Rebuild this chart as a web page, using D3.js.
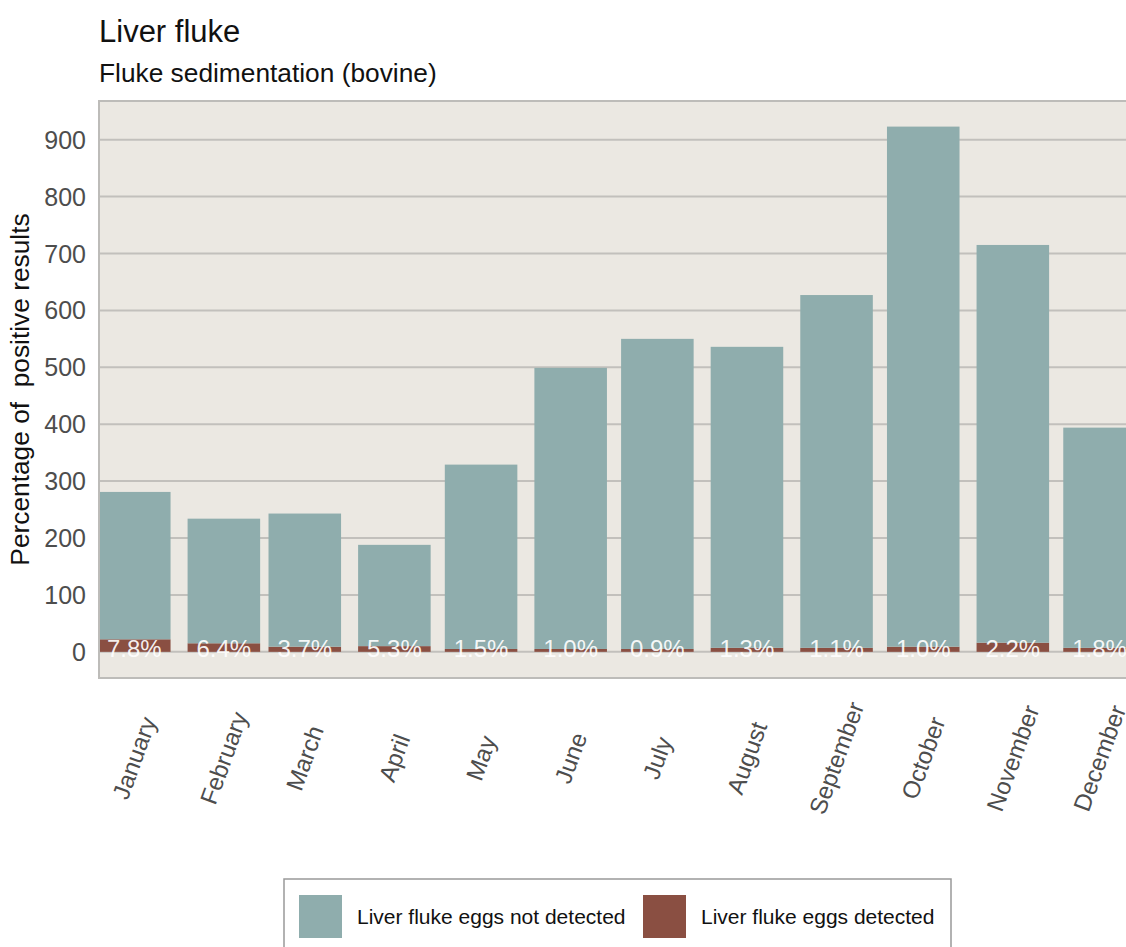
<!DOCTYPE html>
<html><head><meta charset="utf-8">
<script src="https://cdn.jsdelivr.net/npm/d3@7"></script>
<style>html,body{margin:0;padding:0;background:#fff;overflow:hidden}svg{display:block}</style>
</head><body>
<script>
const months = ["January","February","March","April","May","June","July","August","September","October","November","December"];
const notDetected = [259, 219, 234, 178, 324, 494, 545, 529, 620, 914, 699, 387];
const detected    = [22, 15, 9, 10, 5, 5, 5, 7, 7, 9, 16, 7];
const yTicks = [0,100,200,300,400,500,600,700,800,900];
const seriesNames = ["Liver fluke eggs not detected","Liver fluke eggs detected"];
const colors = ["#8fadad","#8a4f42"];

const W=1126,H=947;
const svg=d3.select("body").append("svg").attr("width",W).attr("height",H);
const font="'Liberation Sans', Arial, sans-serif";

const panel={left:99,top:101,bottom:678,right:1170};
const year=2023;
const dates=months.map((m,i)=>new Date(year,i,1));
const x=d3.scaleTime().domain([new Date(year,0,1),new Date(year,11,31)]).range([98,98+364*2.89]);
const y=d3.scaleLinear().domain([-46,968]).range([panel.bottom,panel.top]);
const barW = x(d3.timeDay.offset(dates[0],25))-x(dates[0]) + 0.3;

// panel
svg.append("defs").append("clipPath").attr("id","clip").append("rect")
  .attr("x",panel.left).attr("y",panel.top).attr("width",panel.right-panel.left).attr("height",panel.bottom-panel.top);
svg.append("rect").attr("x",panel.left).attr("y",panel.top).attr("width",panel.right-panel.left).attr("height",panel.bottom-panel.top)
  .attr("fill","#ebe8e2");
const g=svg.append("g").attr("clip-path","url(#clip)");
g.selectAll("line.grid").data(yTicks).join("line").attr("class","grid")
  .attr("x1",panel.left).attr("x2",panel.right).attr("y1",d=>y(d)).attr("y2",d=>y(d))
  .attr("stroke","#c2c0bc").attr("stroke-width",2);

const data=months.map((m,i)=>({m,date:dates[i],nd:notDetected[i],d:detected[i]}));
// detected (bottom)
g.selectAll("rect.det").data(data).join("rect").attr("class","det")
  .attr("x",d=>x(d.date)).attr("width",barW)
  .attr("y",d=>y(d.d)).attr("height",d=>y(0)-y(d.d)).attr("fill",colors[1]);
g.selectAll("rect.nd").data(data).join("rect").attr("class","nd")
  .attr("x",d=>x(d.date)).attr("width",barW)
  .attr("y",d=>y(d.d+d.nd)).attr("height",d=>y(d.d)-y(d.d+d.nd)).attr("fill",colors[0]);
g.selectAll("text.pct").data(data).join("text").attr("class","pct")
  .attr("x",d=>x(d.date)+barW/2).attr("y",y(0)+5)
  .attr("text-anchor","middle").attr("font-family",font).attr("font-size",24)
  .attr("fill","#ffffff").attr("fill-opacity",0.92)
  .text(d=>(d.d/(d.d+d.nd)*100).toFixed(1)+"%");

// border
svg.append("path").attr("d",`M${panel.right},${panel.top}H${panel.left}V${panel.bottom}H${panel.right}`)
  .attr("fill","none").attr("stroke","#bdbcb9").attr("stroke-width",2);

// y axis labels
svg.selectAll("text.yt").data(yTicks).join("text").attr("class","yt")
  .attr("x",86).attr("y",d=>y(d)).attr("dy","0.36em").attr("text-anchor","end")
  .attr("font-family",font).attr("font-size",25).attr("fill","#4d4d4d").text(d=>d);

// x labels
svg.selectAll("text.xt").data(data).join("text").attr("class","xt")
  .attr("transform",d=>`translate(${x(d.date)+barW/2},758) rotate(-70)`)
  .attr("text-anchor","middle").attr("dy","0.35em")
  .attr("font-family",font).attr("font-size",24).attr("fill","#4d4d4d").text(d=>d.m);

// y title
svg.append("text").attr("transform",`translate(29,${(panel.top+panel.bottom)/2}) rotate(-90)`)
  .attr("text-anchor","middle").attr("font-family",font).attr("font-size",26.3).attr("fill","#111")
  .attr("xml:space","preserve").style("white-space","pre")
  .text("Percentage of  positive results");

// titles
svg.append("text").attr("x",99).attr("y",42).attr("font-family",font).attr("font-size",31).attr("fill","#111").text("Liver fluke");
svg.append("text").attr("x",99).attr("y",82).attr("font-family",font).attr("font-size",26.3).attr("fill","#111").text("Fluke sedimentation (bovine)");

// legend
const lg=svg.append("g");
lg.append("rect").attr("x",284).attr("y",879).attr("width",667).attr("height",80).attr("fill","#fff").attr("stroke","#999").attr("stroke-width",1.5);
const keyX=[299,643];
seriesNames.forEach((s,i)=>{
  lg.append("rect").attr("x",keyX[i]).attr("y",895).attr("width",43).attr("height",43).attr("fill",colors[i]);
  lg.append("text").attr("x",keyX[i]+58).attr("y",916).attr("dy","0.36em").attr("font-family",font).attr("font-size",21).attr("fill","#111").text(s);
});
</script>
</body></html>
